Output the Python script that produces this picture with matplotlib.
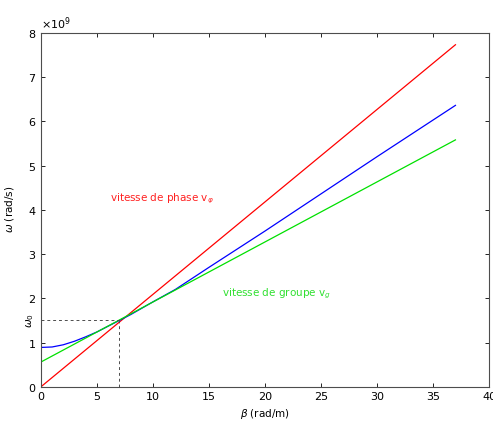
import matplotlib
matplotlib.use("Agg")
import matplotlib.pyplot as plt
from matplotlib.ticker import ScalarFormatter

# values (omega in rad/s, beta in rad/m)
beta_line = [0, 37]
omega_phase = [0.0, 7.73e9]          # red, through origin
omega_group = [0.56e9, 5.58e9]       # green, tangent at omega0
beta_curve = [0, 1, 2, 3, 4, 5, 6, 7, 8, 10, 12, 15, 20, 25, 30, 37]
omega_curve = [0.89e9, 0.90e9, 0.95e9, 1.03e9, 1.13e9, 1.24e9, 1.37e9, 1.50e9,
               1.63e9, 1.92e9, 2.20e9, 2.70e9, 3.52e9, 4.36e9, 5.20e9, 6.36e9]
beta0, omega0 = 7, 1.5e9

plt.rcParams["font.family"] = "DejaVu Sans"
fig = plt.figure(figsize=(4.93, 4.26), dpi=100)
ax = fig.add_axes([0.083, 0.092, 0.909, 0.831])

ax.plot(beta_line, omega_phase, color="#ff0000", lw=0.9)
ax.plot(beta_curve, omega_curve, color="#0000ff", lw=0.9)
ax.plot(beta_line, omega_group, color="#00e000", lw=0.9)
ax.plot([0, beta0], [omega0, omega0], "--", color="0.3", lw=0.7, dashes=(3, 3))
ax.plot([beta0, beta0], [0, omega0], "--", color="0.3", lw=0.7, dashes=(3, 3))

ax.text(6.2, 4.2e9, r"vitesse de phase v$_\varphi$", color="#ff2020", fontsize=7.5)
ax.text(16.2, 2.05e9, r"vitesse de groupe v$_g$", color="#30e030", fontsize=7.5)
ax.text(-1.0, omega0, r"$\omega_0$", fontsize=7.5, rotation=90, ha="center", va="center")

ax.set_xlim(0, 40)
ax.set_ylim(0, 8e9)
ax.set_xticks(range(0, 41, 5))
ax.set_yticks([i * 1e9 for i in range(9)])
fmt = ScalarFormatter(useMathText=True)
fmt.set_powerlimits((0, 0))
ax.yaxis.set_major_formatter(fmt)
ax.yaxis.get_offset_text().set_fontsize(8)
ax.tick_params(direction="in", top=True, right=True, labelsize=8, length=3, width=0.6)
for s in ax.spines.values():
    s.set_linewidth(0.8)
    s.set_color("0.3")
ax.set_xlabel(r"$\beta$ (rad/m)", fontsize=7.5, labelpad=4)
ax.set_ylabel(r"$\omega$ (rad/s)", fontsize=7.5, labelpad=8)

fig.savefig("out.png", dpi=100)
